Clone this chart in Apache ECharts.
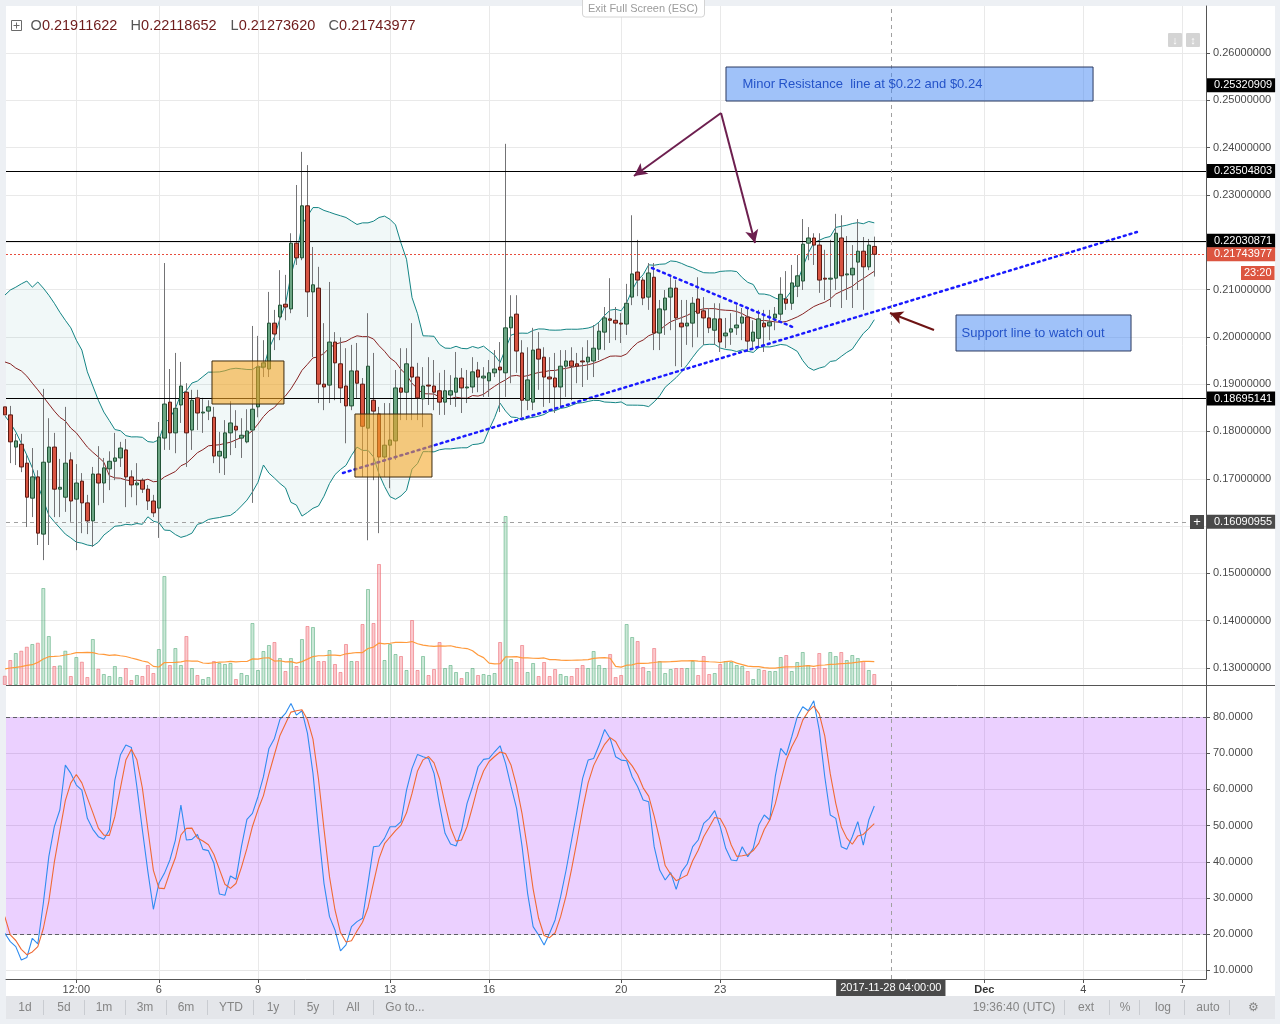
<!DOCTYPE html>
<html><head><meta charset="utf-8"><title>Chart</title>
<script src="https://cdn.jsdelivr.net/npm/echarts@6/dist/echarts.min.js"></script>
<style>
html,body{margin:0;padding:0;background:#edf0f4;width:1280px;height:1024px;overflow:hidden}
#bg{position:absolute;left:6px;top:6px;width:1269px;height:990px;background:#fff}
#c{position:absolute;left:0;top:0;width:1280px;height:1024px}
</style></head>
<body><div id="bg"></div><div id="c"></div>
<script>
// ---------- DATA (4h candles) ----------
// candle i starts at 2017-11-01 00:00 UTC + (FIRST_HOUR + STEP_HOURS*i) hours
const FIRST_HOUR = 8, STEP_HOURS = 4;

const opens = [0.1852,0.1835,0.1767,0.1773,0.1733,0.1659,0.1704,0.1583,0.1735,0.1767,0.1678,0.1661,0.1740,0.1657,0.1695,0.1649,0.1611,0.1710,0.1691,0.1721,
0.1737,0.1744,0.1761,0.1704,0.1687,0.1697,0.1678,0.1653,0.1638,0.1786,0.1862,0.1797,0.1856,0.1883,0.1803,0.1871,0.1839,0.1843,0.1830,0.1748,
0.1744,0.1797,0.1811,0.1786,0.1778,0.1803,0.1852,0.1936,0.1932,0.2029,0.2042,0.2069,0.2059,0.2198,0.2167,0.2277,0.2095,0.2103,0.1900,0.1898,
0.1989,0.1943,0.1896,0.1854,0.1928,0.1900,0.1807,0.1866,0.1837,0.1746,0.1771,0.1780,0.1892,0.1883,0.1936,0.1915,0.1869,0.1898,0.1896,0.1886,
0.1862,0.1877,0.1883,0.1913,0.1892,0.1894,0.1930,0.1913,0.1907,0.1924,0.1936,0.1924,0.2019,0.2048,0.1966,0.1866,0.1862,0.1974,0.1957,0.1915,
0.1913,0.1894,0.1938,0.1949,0.1943,0.1949,0.1947,0.1949,0.1974,0.2010,0.2038,0.2035,0.2029,0.2027,0.2084,0.2137,0.2120,0.2084,0.2126,0.2008,
0.2057,0.2084,0.2103,0.2029,0.2023,0.2029,0.2080,0.2055,0.2040,0.2014,0.2038,0.2002,0.2010,0.2019,0.2029,0.2042,0.1991,0.1997,0.2029,0.2023,
0.2040,0.2048,0.2080,0.2071,0.2107,0.2118,0.2198,0.2209,0.2194,0.2124,0.2122,0.2124,0.2209,0.2131,0.2131,0.2158,0.2181,0.2148,0.21911622];

const closes = [0.1835,0.1778,0.1780,0.1725,0.1661,0.1704,0.1585,0.1735,0.1767,0.1678,0.1682,0.1733,0.1653,0.1691,0.1649,0.1611,0.1710,0.1691,0.1723,0.1737,
0.1744,0.1765,0.1704,0.1687,0.1691,0.1678,0.1653,0.1628,0.1788,0.1858,0.1797,0.1849,0.1896,0.1797,0.1866,0.1839,0.1841,0.1852,0.1748,0.1758,
0.1797,0.1818,0.1803,0.1792,0.1801,0.1847,0.1936,0.1945,0.2029,0.2006,0.2067,0.2063,0.2198,0.2167,0.2277,0.2095,0.2110,0.1900,0.1894,0.1989,
0.1945,0.1892,0.1854,0.1928,0.1902,0.1811,0.1938,0.1843,0.1746,0.1771,0.1782,0.1892,0.1883,0.1943,0.1915,0.1871,0.1896,0.1896,0.1883,0.1862,
0.1886,0.1886,0.1913,0.1892,0.1894,0.1926,0.1915,0.1917,0.1924,0.1932,0.1930,0.2019,0.2042,0.1970,0.1866,0.1909,0.1972,0.1953,0.1915,0.1911,
0.1894,0.1938,0.1949,0.1938,0.1938,0.1947,0.1957,0.1976,0.2012,0.2040,0.2035,0.2029,0.2027,0.2071,0.2133,0.2120,0.2082,0.2135,0.2008,0.2059,
0.2082,0.2103,0.2040,0.2021,0.2029,0.2071,0.2050,0.2040,0.2019,0.2038,0.1989,0.2008,0.2017,0.2025,0.2042,0.1991,0.2010,0.2038,0.2021,0.2031,
0.2048,0.2090,0.2071,0.2114,0.2129,0.2196,0.2209,0.2194,0.2120,0.2122,0.2124,0.2219,0.2129,0.2133,0.2145,0.2181,0.2148,0.2194,0.21743977];

const lows = [0.1824,0.1733,0.1729,0.1714,0.1598,0.1619,0.1560,0.1528,0.1560,0.1619,0.1619,0.1630,0.1609,0.1549,0.1585,0.1583,0.1556,0.1644,0.1649,0.1676,
0.1697,0.1725,0.1640,0.1661,0.1644,0.1670,0.1634,0.1619,0.1575,0.1761,0.1761,0.1754,0.1818,0.1725,0.1761,0.1803,0.1797,0.1824,0.1733,0.1712,
0.1708,0.1750,0.1765,0.1744,0.1775,0.1649,0.1830,0.1915,0.1915,0.1972,0.1993,0.2035,0.2050,0.2152,0.2162,0.2042,0.1957,0.1860,0.1845,0.1860,
0.1866,0.1860,0.1775,0.1845,0.1871,0.1704,0.1570,0.1697,0.1585,0.1704,0.1680,0.1740,0.1824,0.1824,0.1824,0.1824,0.1809,0.1856,0.1845,0.1835,
0.1835,0.1856,0.1852,0.1839,0.1860,0.1881,0.1883,0.1873,0.1873,0.1915,0.1841,0.1873,0.1902,0.1924,0.1830,0.1845,0.1845,0.1888,0.1852,0.1860,
0.1839,0.1852,0.1873,0.1866,0.1902,0.1894,0.1909,0.1915,0.1951,0.1972,0.1987,0.1993,0.1987,0.2004,0.2067,0.2086,0.2067,0.2057,0.1972,0.1972,
0.2004,0.2014,0.1938,0.1936,0.1983,0.1978,0.1999,0.1983,0.2008,0.1983,0.1968,0.1976,0.1983,0.2004,0.1993,0.1968,0.1972,0.1978,0.1968,0.1993,
0.2014,0.2035,0.2057,0.2057,0.2084,0.2099,0.2162,0.2152,0.2093,0.2078,0.2063,0.2099,0.2061,0.2078,0.2061,0.2099,0.2057,0.2141,0.21273620];

const highs = [0.1866,0.1854,0.1795,0.1795,0.1750,0.1765,0.1718,0.1890,0.1828,0.1797,0.1742,0.1852,0.1756,0.1731,0.1712,0.1666,0.1725,0.1769,0.1744,0.1758,
0.1797,0.1778,0.1784,0.1718,0.1733,0.1701,0.1687,0.1666,0.1820,0.2156,0.1932,0.1966,0.1947,0.1902,0.1888,0.1888,0.1871,0.1866,0.1852,0.1799,
0.1824,0.1864,0.1845,0.1828,0.1847,0.2023,0.2002,0.1993,0.2095,0.2057,0.2141,0.2131,0.2219,0.2321,0.2391,0.2363,0.2190,0.2148,0.2029,0.2116,
0.2010,0.1999,0.1976,0.1983,0.1987,0.1913,0.2050,0.1966,0.1852,0.1860,0.1860,0.1930,0.1976,0.1976,0.2029,0.1945,0.1936,0.1957,0.1951,0.1924,
0.1930,0.1919,0.1968,0.1934,0.1930,0.1957,0.1947,0.1936,0.1951,0.1972,0.1989,0.2408,0.2088,0.2088,0.1993,0.1978,0.2019,0.2010,0.1978,0.1957,
0.1966,0.1972,0.1972,0.1978,0.1966,0.1978,0.1993,0.2025,0.2029,0.2063,0.2124,0.2063,0.2050,0.2112,0.2257,0.2205,0.2126,0.2156,0.2156,0.2078,
0.2099,0.2126,0.2120,0.2078,0.2078,0.2084,0.2126,0.2084,0.2061,0.2071,0.2071,0.2040,0.2050,0.2067,0.2061,0.2063,0.2035,0.2057,0.2057,0.2057,
0.2063,0.2126,0.2139,0.2152,0.2173,0.2249,0.2232,0.2219,0.2219,0.2184,0.2205,0.2260,0.2257,0.2213,0.2194,0.2249,0.2211,0.2207,0.22118652];

// volume (arbitrary units, thousands)
const volumes = [9.3,25,32,34.3,38.3,41,42.3,97,49,19,19.6,34.3,9,28,23.3,8,46,16.3,11,9,
19,8,17,5,10,9,20,12,36,109,20,37,20,49,17,10,6,8,24,22,
21,22,6,12,10,62,15,34,40,43,27,14,27,19,46,59,58,24,24,35,
21,13,41,24,24,61,96,62,121,25,41,31,29,15,65,15,29,10,16,43,
17,20,13,7,13,17,10,11,10,12,43,169,26,23,40,13,22,9,23,9,
16,11,9,9,17,20,17,34,20,17,31,8,10,61,48,44,18,14,37,24,
12,16,17,17,17,24,10,29,11,12,21,24,23,20,19,14,6,16,15,14,
14,28,30,14,23,33,20,17,32,17,33,29,33,25,30,27,24,15,11];

// Stochastic %K
const stochK = [20.24,17.94,16.56,12.87,13.52,18.86,17.29,28.53,41.42,49.71,54.31,66.74,64.44,61.22,59.83,52.01,48.97,46.94,46.21,48.78,
62.6,69.5,72.27,71.62,60.76,48.78,37.27,26.87,34.05,36.81,40.5,46.02,55.69,46.02,46.21,47.59,43.44,43.08,39.58,31.1,
30.74,36.08,35.16,44.18,51.73,53.39,57.99,63.52,71.34,74.11,79.36,81.01,83.78,80.55,81.75,75.49,64.44,48.78,34.05,24.84,
21.16,15.36,17.02,22.08,23.46,24.38,34.05,44.18,44.36,46.48,49.71,49.71,51.09,59.83,65.82,69.69,69.04,68.58,64.44,55.69,
47.86,44.92,44.36,48.78,56.15,60.76,66.28,68.31,68.58,70.42,72.08,67.2,60.76,54.77,44.18,31.29,22.08,19.78,17.02,20.24,
23.92,30.37,37.73,46.02,54.31,63.06,68.12,68.58,72.27,76.59,74.11,69.04,68.12,67.94,63.52,60.76,57.07,56.61,44.18,37.73,
34.97,37.0,32.39,37.27,39.39,44.18,46.02,50.63,52.01,54.13,49.71,43.72,40.5,40.31,44.18,41.42,43.72,50.17,52.93,51.55,
63.52,71.34,69.5,74.57,80.09,82.85,81.75,84.51,76.41,63.52,52.93,52.01,44.18,43.44,46.94,51.09,44.64,51.55,55.41];
const stochDHead = [24.84, 19.78];            // %D before enough %K exists (read)

// indicator values at the left edge (need history before the window)
const bbUpperHead = [0.2088,0.2099,0.2105,0.2112,0.2118,0.2105,0.2116,0.2103,0.2088,0.2071,0.2052,0.2035,0.2019,0.1993,0.1972,0.1926,0.1896,0.1866,0.1841];
const bbBasisHead = [0.1947,0.1943,0.1934,0.1928,0.1917,0.1902,0.1888,0.1873,0.1858,0.1843,0.1830,0.1822,0.1807,0.1797,0.1782,0.1767,0.1756,0.1746,0.1735];
const bbLowerHead = [0.1833,0.1818,0.1799,0.1775,0.1750,0.1723,0.1687,0.1655,0.1623,0.1609,0.1596,0.1583,0.1575,0.1566,0.1564,0.1560,0.1558,0.1566,0.1581];
const volMAHead   = [16,17,17.6,18.3,19.6,20.3,22.6,26,28.3,28.6,29,30,31,32.3,32.3,32.6,32.3,31,30.6];

// axis ticks
const timeTicks = [60,120,192,288,360,456,528,720,792,864];    // hours after 2017-11-01 00:00
const timeTickLabels = ['12:00','6','9','13','16','20','23','Dec','4','7'];
const priceTicks = [0.13,0.14,0.15,0.16,0.17,0.18,0.19,0.20,0.21,0.22,0.23,0.24,0.25,0.26];
const priceTickLabels = [0.13,0.14,0.15,0.17,0.18,0.19,0.20,0.21,0.22,0.23,0.24,0.25,0.26];
const stochTicks = [10,20,30,40,50,60,70,80];

// horizontal levels / crosshair
const levelValues = [0.25320909,0.23504803,0.22030871,0.18695141];
const levelHasLine = [false,true,true,true];
const countdownText = '23:20', countdownPrice = 0.2135;
const crossPrice = 0.16090955, crossHour = 652, crossText = '2017-11-28 04:00:00';

// drawings (x in hours, y in price)
const trendDashed = [[8.87,0.20737],[444.3,0.16424]];
const trendSupport = [[253.8,0.17122],[830.9,0.22216]];
const trendShort = [[478.4,0.21455],[582.4,0.20187]];
const arrowsPurple = [[[528.6,0.24732],[465.3,0.23400]],[[528.6,0.24732],[553.3,0.21984]]];
const arrowRed = [[683.4,0.20145],[651.4,0.20504]];
const orangeBoxes = [[[158.6,0.1949],[210.9,0.1858]],[[262.5,0.18369],[318.5,0.17037]]];
const noteBoxes = [
  {from:[532.2,0.25704], to:[799.0,0.24985], text:'Minor Resistance  line at $0.22 and $0.24', pad:17},
  {from:[699.4,0.20462], to:[826.6,0.19701], text:'Support line to watch out', pad:6}
];

// ---------- DERIVED ----------
const N = opens.length;
const t = opens.map((_, i) => FIRST_HOUR + STEP_HOURS * i);
const wickData = opens.map((o,i)=>[t[i], o, closes[i], lows[i], highs[i]]);
const bodyData = opens.map((o,i)=>[t[i], o, closes[i], Math.min(o,closes[i]), Math.max(o,closes[i])]);

const bbU=[], bbM=[], bbL=[];
for (let i=0;i<N;i++){
  if (i < bbUpperHead.length){ bbU.push(bbUpperHead[i]); bbM.push(bbBasisHead[i]); bbL.push(bbLowerHead[i]); continue; }
  const w = closes.slice(i-19, i+1);
  const m = w.reduce((a,b)=>a+b,0)/w.length;
  const sd = Math.sqrt(w.reduce((a,b)=>a+(b-m)*(b-m),0)/w.length);
  bbM.push(m); bbU.push(m+2*sd); bbL.push(m-2*sd);
}
const volMA = volumes.map((v,i)=> i < volMAHead.length ? volMAHead[i] : volumes.slice(i-19,i+1).reduce((a,b)=>a+b,0)/20);
const stochD = stochK.map((v,i)=> i < stochDHead.length ? stochDHead[i] : (stochK[i]+stochK[i-1]+stochK[i-2])/3);

const pair = (arr) => arr.map((v,i)=>[t[i], v]);
const FONT = '"Liberation Sans", Arial, sans-serif';
const volUp = {color:'rgba(107,190,140,0.35)', borderColor:'rgba(80,170,120,0.55)', borderWidth:1};
const volDown = {color:'rgba(245,120,130,0.40)', borderColor:'rgba(235,100,110,0.55)', borderWidth:1};
const volData = volumes.map((v,i)=>({value:[t[i], v], itemStyle: closes[i] >= opens[i] ? volUp : volDown}));

const X_MIN = 8.872, X_MAX = 881.1;
const tag = (bg, text, dist, pad) => ({show:true, position:'end', distance: dist, formatter: text,
  backgroundColor: bg, color:'#fff', fontSize:11, fontFamily:FONT, padding: pad || [1,3,1,7], lineHeight:12});
const hiddenLine = {color:'rgba(0,0,0,0)', width:1, type:'solid'};

const last = N-1;
const legendItems = [['O',opens[last]],['H',highs[last]],['L',lows[last]],['C',closes[last]]];
const legendX = [30.6,130.6,230.6,328.6];

const option = {
  animation:false,
  textStyle:{fontFamily:FONT},
  grid:[
    {left:6, top:6, width:1200, height:679, outerBoundsMode:'none', containLabel:false},
    {left:6, top:686, width:1200, height:293, outerBoundsMode:'none', containLabel:false}
  ],
  xAxis:[
    {type:'value', gridIndex:0, min:X_MIN, max:X_MAX, axisLine:{show:false},
     axisTick:{show:false, customValues:timeTicks}, axisLabel:{show:false, customValues:timeTicks},
     splitLine:{show:true, lineStyle:{color:'#e9e9e9'}}},
    {type:'value', gridIndex:1, min:X_MIN, max:X_MAX,
     axisLine:{show:true, lineStyle:{color:'#555'}},
     axisTick:{show:true, length:4, lineStyle:{color:'#555'}, customValues:timeTicks},
     axisLabel:{show:true, customValues:timeTicks, color:'#4b4b4b', fontSize:11, margin:5,
       formatter:(v)=>{const k=timeTicks.indexOf(v); const s=k>=0?timeTickLabels[k]:''; return s==='Dec'?'{b|Dec}':s;},
       rich:{b:{fontWeight:'bold', color:'#333', fontSize:11}}},
     splitLine:{show:true, lineStyle:{color:'#e9e9e9'}}}
  ],
  yAxis:[
    {type:'value', gridIndex:0, position:'right', min:0.126406, max:0.269935, scale:true,
     axisLine:{show:true, lineStyle:{color:'#555'}},
     axisTick:{show:true, length:4, lineStyle:{color:'#555'}, customValues:priceTicks},
     axisLabel:{customValues:priceTickLabels, formatter:(v)=>v.toFixed(8), color:'#4b4b4b', fontSize:11, margin:7},
     splitLine:{show:true, lineStyle:{color:'#e9e9e9'}}},
    {type:'value', gridIndex:0, show:false, min:0, max:679, splitLine:{show:false}},
    {type:'value', gridIndex:1, position:'right', min:7.6, max:88.6,
     axisLine:{show:true, lineStyle:{color:'#555'}},
     axisTick:{show:true, length:4, lineStyle:{color:'#555'}, customValues:stochTicks},
     axisLabel:{customValues:stochTicks, formatter:(v)=>v.toFixed(4), color:'#4b4b4b', fontSize:11, margin:7},
     splitLine:{show:true, lineStyle:{color:'#e6e6e6'}}}
  ],
  series:[
    {name:'Volume', type:'bar', xAxisIndex:0, yAxisIndex:1, barWidth:4, data:volData, z:1, silent:true},
    {name:'Volume MA', type:'line', xAxisIndex:0, yAxisIndex:1, data:pair(volMA), symbol:'none', z:2, silent:true,
     lineStyle:{color:'#ff9a3c', width:1.2}},
    {name:'BB fill', type:'custom', xAxisIndex:0, yAxisIndex:0, z:2, silent:true, clip:true,
     data:bbU.map((u,i)=>[t[i], u, bbL[i]]), encode:{x:0, y:[1,2]},
     renderItem:(params, api)=>{
       if (params.dataIndex !== 0) return null;
       const pts = [];
       for (let i=0;i<N;i++) pts.push(api.coord([t[i], bbU[i]]));
       for (let i=N-1;i>=0;i--) pts.push(api.coord([t[i], bbL[i]]));
       return {type:'polygon', shape:{points:pts}, style:{fill:'rgba(25,135,135,0.06)'}};
     }},
    {name:'BB upper', type:'line', data:pair(bbU), symbol:'none', lineStyle:{color:'#138484', width:1}, z:3, silent:true,
     markLine:{silent:true, precision:10, symbol:['none','arrow'], symbolSize:[10,13], z:6, label:{show:false},
       lineStyle:{color:'#6d1f4f', width:2, type:'solid'},
       data:[
         ...arrowsPurple.map(a=>[{coord:a[0]},{coord:a[1]}]),
         [{coord:arrowRed[0], lineStyle:{color:'#6e1414', width:2}},{coord:arrowRed[1]}]
       ]}},
    {name:'BB lower', type:'line', data:pair(bbL), symbol:'none', lineStyle:{color:'#138484', width:1}, z:3, silent:true,
     markArea:{silent:true, z:10,
       data:[
         ...orangeBoxes.map(b=>[{coord:b[0], itemStyle:{color:'rgba(245,166,35,0.58)', borderColor:'#3c2a0e', borderWidth:1}},{coord:b[1]}]),
         ...noteBoxes.map(b=>[{coord:b.from, itemStyle:{color:'rgba(66,133,244,0.5)', borderColor:'#2c3a60', borderWidth:1},
             label:{show:true, position:'insideLeft', distance:b.pad, formatter:b.text, color:'#2453c9', fontSize:13, fontFamily:FONT}},
           {coord:b.to}])
       ]}},
    {name:'BB basis', type:'line', data:pair(bbM), symbol:'none', lineStyle:{color:'#872323', width:1}, z:3, silent:true,
     markLine:{silent:true, precision:10, symbol:['none','none'], z:5, label:{show:false},
       data:[
         [{coord:trendDashed[0], lineStyle:{color:'#2f3ee6', width:1, type:[6,5]}},{coord:trendDashed[1]}],
         [{coord:trendSupport[0], lineStyle:{color:'#1a1aff', width:2.5, type:[2,4], cap:'round'}},{coord:trendSupport[1]}],
         [{coord:trendShort[0], lineStyle:{color:'#1a1aff', width:2.5, type:[2,4], cap:'round'}},{coord:trendShort[1]}]
       ]}},
    {name:'wicks', type:'candlestick', data:wickData, encode:{x:0, y:[1,2,3,4]}, barWidth:1, z:4, silent:true,
     itemStyle:{color:'#737375', color0:'#737375', borderColor:'#737375', borderColor0:'#737375', borderWidth:1}},
    {name:'bodies', type:'candlestick', data:bodyData, encode:{x:0, y:[1,2,3,4]}, barWidth:4, z:5, silent:true,
     itemStyle:{color:'#6ba583', color0:'#d75442', borderColor:'#225437', borderColor0:'#5b1a13', borderWidth:1},
     markLine:{silent:true, precision:10, symbol:['none','none'], z:5,
       data:[
         ...levelValues.map((v,i)=>({yAxis:v, lineStyle: levelHasLine[i] ? {color:'#000', width:1, type:'solid'} : hiddenLine, label:tag('#000', v.toFixed(8), 1)})),
         {yAxis:closes[last], lineStyle:{color:'#e74c3c', width:1, type:[2,2]}, label:tag('#dc5540', closes[last].toFixed(8), 1)},
         {yAxis:countdownPrice, lineStyle:hiddenLine, label:tag('#dc5540', countdownText, 35, [1,3,1,3])},
         {yAxis:crossPrice, lineStyle:{color:'#a0a0a0', width:1, type:[4,4]}, label:tag('#4a4a4a', crossPrice.toFixed(8), 1)},
         {xAxis:crossHour, lineStyle:{color:'#a0a0a0', width:1, type:[4,4]}, label:{show:false}}
       ]}},
    {name:'%K', type:'line', xAxisIndex:1, yAxisIndex:2, data:pair(stochK), symbol:'none', z:3, silent:true,
     lineStyle:{color:'#2f8cf0', width:1.1},
     markArea:{silent:true, z:1, itemStyle:{color:'rgba(153,21,255,0.2)'}, data:[[{yAxis:80},{yAxis:20}]]}},
    {name:'%D', type:'line', xAxisIndex:1, yAxisIndex:2, data:pair(stochD), symbol:'none', z:3, silent:true,
     lineStyle:{color:'#f06a35', width:1.1},
     markLine:{silent:true, precision:10, symbol:['none','none'], z:4,
       data:[
         {yAxis:80, lineStyle:{color:'#5e5e66', width:1, type:[4,3]}, label:{show:false}},
         {yAxis:20, lineStyle:{color:'#5e5e66', width:1, type:[4,3]}, label:{show:false}},
         {xAxis:crossHour, lineStyle:{color:'#a0a0a0', width:1, type:[4,4]},
          label:{show:true, position:'start', distance:1, formatter:crossText, backgroundColor:'#4a4a4a', color:'#fff',
                 fontSize:11, fontFamily:FONT, padding:[2,4], lineHeight:12}}
       ]}}
  ],
  graphic:[
    // legend
    {type:'rect', shape:{x:11.5,y:20.5,width:10,height:10}, style:{fill:'none', stroke:'#6a6a6a', lineWidth:1}, z:100},
    {type:'line', shape:{x1:13.5,y1:25.5,x2:19.5,y2:25.5}, style:{stroke:'#6a6a6a', lineWidth:1}, z:100},
    {type:'line', shape:{x1:16.5,y1:22.5,x2:16.5,y2:28.5}, style:{stroke:'#6a6a6a', lineWidth:1}, z:100},
    ...legendItems.map((it,k)=>({type:'text', x:legendX[k], y:26, z:100,
      style:{text:'{l|'+it[0]+'}{v|'+it[1].toFixed(8)+'}', verticalAlign:'middle', align:'left',
        rich:{l:{fill:'#555', fontSize:14.5, fontFamily:FONT}, v:{fill:'#6e1b1b', fontSize:14.5, fontFamily:FONT}}}})),
    // exit full screen button
    {type:'rect', shape:{x:582.5,y:-3,width:122,height:20,r:3}, style:{fill:'#fff', stroke:'#d4d4d4', lineWidth:1}, z:100},
    {type:'text', x:643, y:9, z:101, style:{text:'Exit Full Screen (ESC)', fill:'#9b9b9b', fontSize:11, fontFamily:FONT, align:'center', verticalAlign:'middle'}},
    // top right icons
    {type:'rect', shape:{x:1168,y:33,width:14,height:14,r:1}, style:{fill:'#d4d4d4'}, z:100},
    {type:'text', x:1175, y:40.5, z:101, style:{text:'↓', fill:'#fff', fontSize:11, fontWeight:'bold', align:'center', verticalAlign:'middle'}},
    {type:'rect', shape:{x:1186,y:33,width:14,height:14,r:1}, style:{fill:'#d4d4d4'}, z:100},
    {type:'text', x:1193, y:40.5, z:101, style:{text:'↕', fill:'#fff', fontSize:11, fontWeight:'bold', align:'center', verticalAlign:'middle'}},
    // crosshair plus box
    {type:'rect', shape:{x:1190,y:515,width:14,height:14}, style:{fill:'#4a4a4a'}, z:100},
    {type:'text', x:1197, y:522, z:101, style:{text:'+', fill:'#fff', fontSize:13, fontFamily:FONT, align:'center', verticalAlign:'middle'}},
    // pane separator
    {type:'line', shape:{x1:6,y1:685.5,x2:1275,y2:685.5}, style:{stroke:'#555', lineWidth:1}, z:100},
    // bottom toolbar
    {type:'rect', shape:{x:6,y:996,width:1269,height:23}, style:{fill:'#e4e6ea'}, z:90},
    ...[['1d',25],['5d',64],['1m',104],['3m',145],['6m',186],['YTD',231],['1y',273],['5y',313],['All',353],['Go to...',405],
        ['19:36:40 (UTC)',1014],['ext',1086],['%',1125],['log',1163],['auto',1208],['⚙',1253]].map(a=>({
      type:'text', x:a[1], y:1007.5, z:101, style:{text:a[0], fill:'#858585', fontSize:12, fontFamily:FONT, align:'center', verticalAlign:'middle'}})),
    ...[43,84,125,166,207,253,294,333,373,1064,1109,1139,1184,1229].map(x=>({
      type:'line', shape:{x1:x+0.5,y1:1000,x2:x+0.5,y2:1015}, style:{stroke:'#c9ccd1', lineWidth:1}, z:100}))
  ]
};

const chart = echarts.init(document.getElementById('c'), null, {renderer:'canvas', width:1280, height:1024});
chart.setOption(option);
</script>
</body></html>
